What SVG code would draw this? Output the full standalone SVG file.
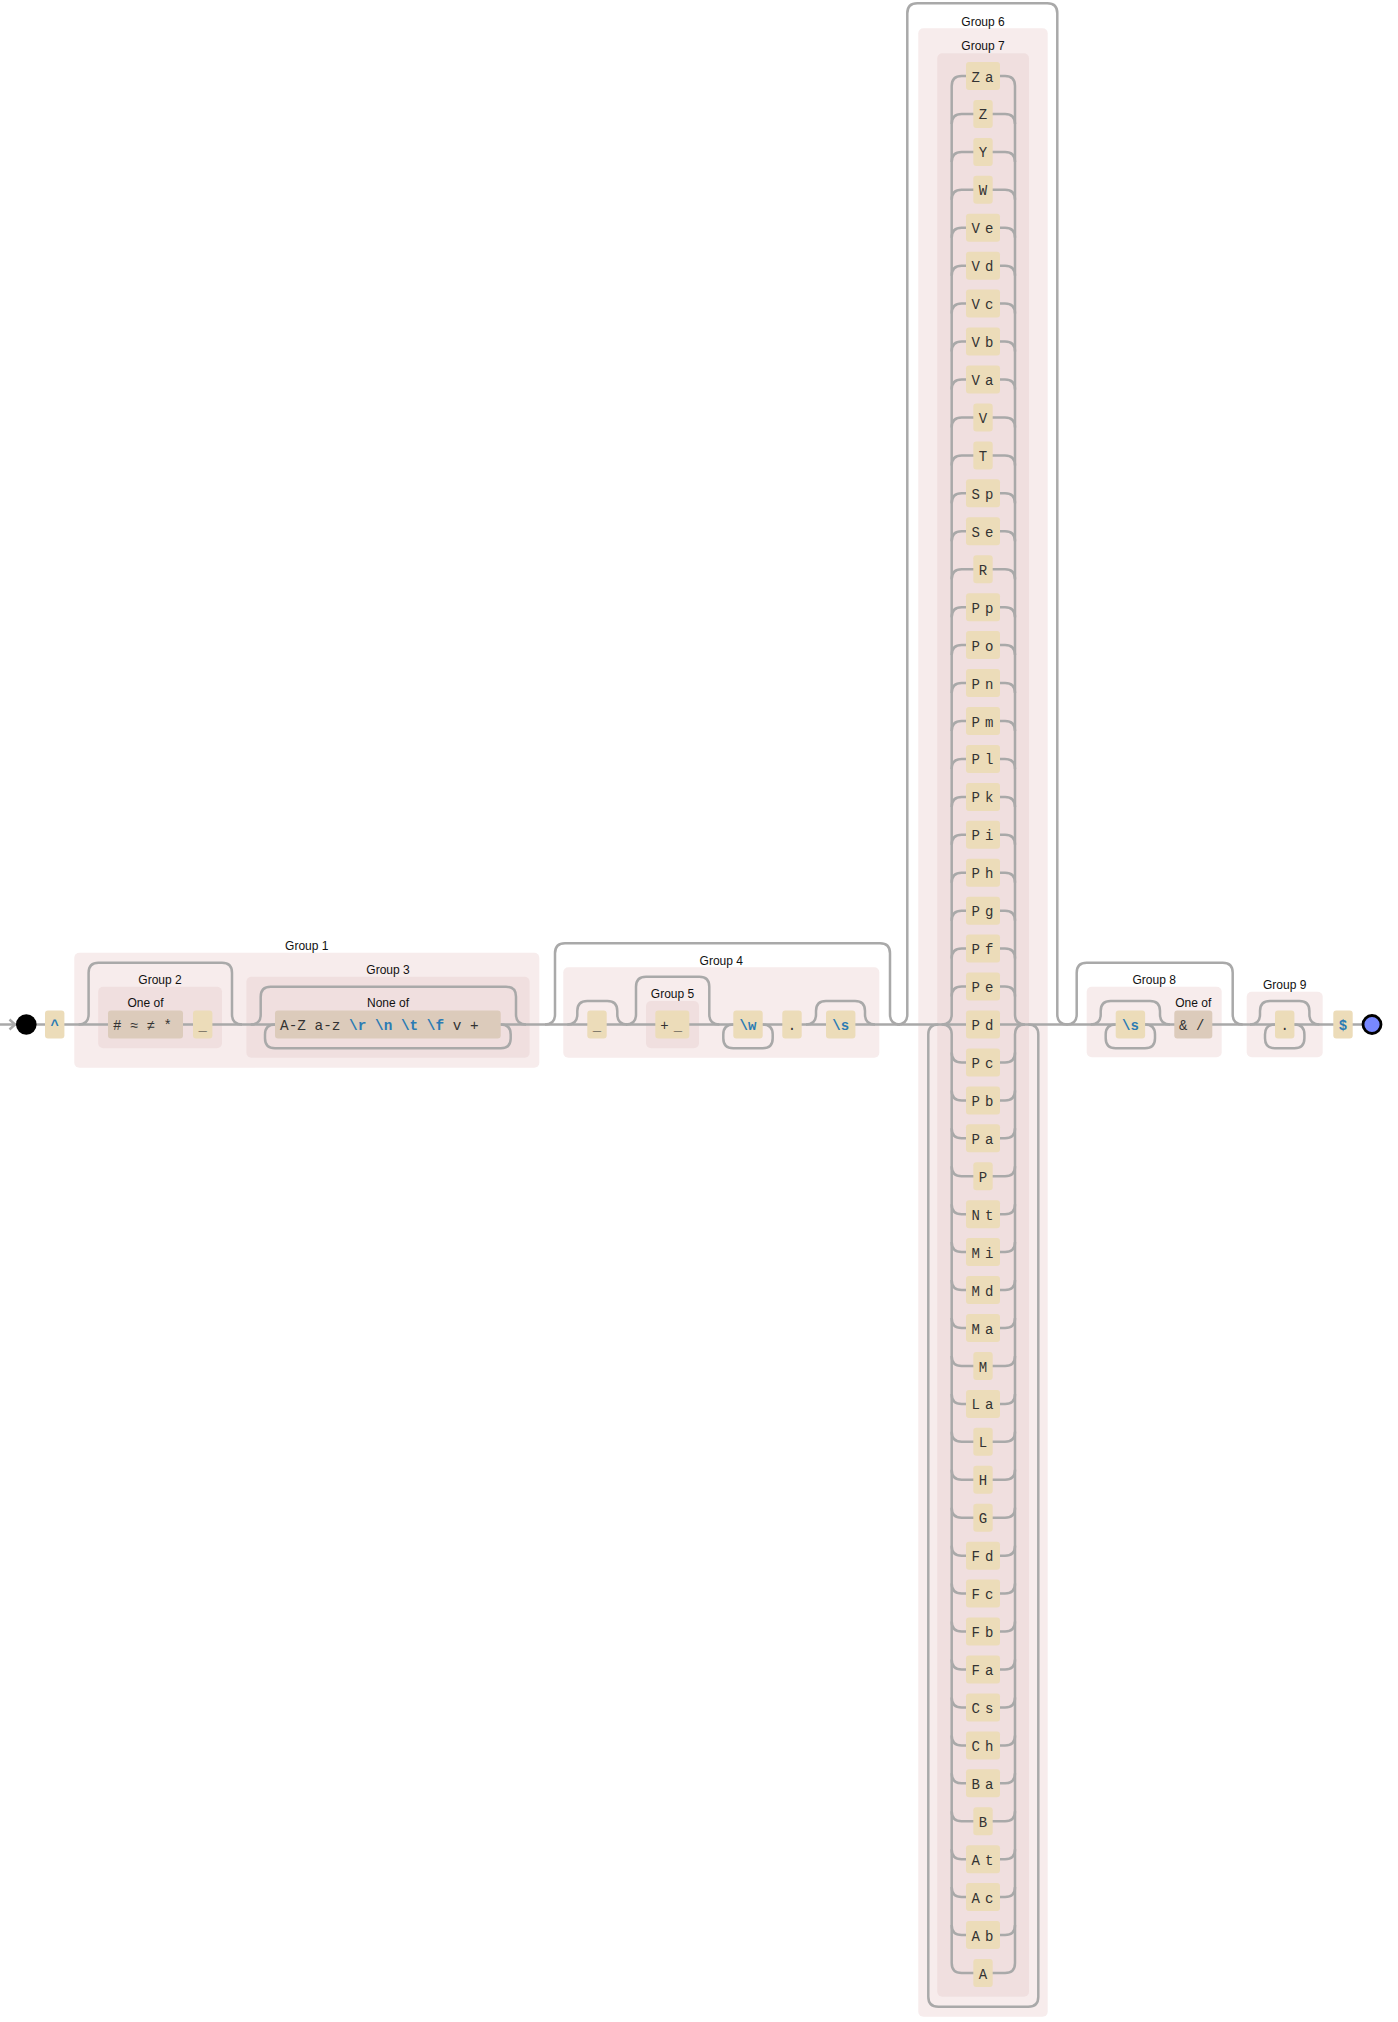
<svg xmlns="http://www.w3.org/2000/svg" width="1398" height="2022" viewBox="0 0 1398 2022">
<style>
.go{fill:#f7ecec}
.gi{fill:#f0dfdf}
.lit{fill:#ecdcb9}
.cs{fill:#dccbbb}
.c{fill:none;stroke:#a9a9a9;stroke-width:2.5}
.lb{font-family:"Liberation Sans",Arial,sans-serif;font-size:12px;fill:#111;text-anchor:middle}
.m{font-family:"Liberation Mono","Courier New",monospace;font-size:14px;fill:#333}
.mid{text-anchor:middle}
.ls{letter-spacing:5px}
.e{font-weight:bold;fill:#2b7bb4}
</style>
<g id="containers">
<g id="group1"><rect class="go" x="74.3" y="952.7" width="465" height="115" rx="5"/><text class="lb" x="306.8" y="950">Group 1</text></g>
<g id="group2"><rect class="gi" x="98.2" y="986.7" width="123.8" height="61.6" rx="5"/><text class="lb" x="160" y="984">Group 2</text></g>
<g id="group3"><rect class="gi" x="246.4" y="976.7" width="283.2" height="81" rx="5"/><text class="lb" x="388" y="974">Group 3</text></g>
<g id="group4"><rect class="go" x="563.3" y="967.3" width="316" height="90.4" rx="5"/><text class="lb" x="721.3" y="965">Group 4</text></g>
<g id="group5"><rect class="gi" x="646" y="1001" width="53" height="47.3" rx="5"/><text class="lb" x="672.5" y="998.3">Group 5</text></g>
<g id="group6"><rect class="go" x="918.3" y="28.3" width="129.4" height="1988.4" rx="5"/><text class="lb" x="983" y="25.7">Group 6</text></g>
<g id="group7"><rect class="gi" x="937.3" y="53.3" width="91.7" height="1943.4" rx="5"/><text class="lb" x="983" y="49.7">Group 7</text></g>
<g id="group8"><rect class="go" x="1086.7" y="986.7" width="135" height="70.6" rx="5"/><text class="lb" x="1154.2" y="984">Group 8</text></g>
<g id="group9"><rect class="go" x="1246.7" y="991.7" width="76" height="65.6" rx="5"/><text class="lb" x="1284.7" y="989">Group 9</text></g>
</g>
<g id="connectors">
<path class="c" d="M0,1024.5 H1362"/>
<path class="c" d="M9.5,1019.5 L15,1024.5 L9.5,1029.5"/>
<path class="c" d="M78.6,1024.5 q10,0 10,-10 V972.7 q0,-10 10,-10 H222 q10,0 10,10 V1014.5 q0,10 10,10"/>
<path class="c" d="M250.7,1024.5 q10,0 10,-10 V996.7 q0,-10 10,-10 H506 q10,0 10,10 V1014.5 q0,10 10,10"/>
<path class="c" d="M500.7,1024.5 q10,0 10,10 V1038.3 q0,10 -10,10 H275 q-10,0 -10,-10 V1034.5 q0,-10 10,-10"/>
<path class="c" d="M545,1024.5 q10,0 10,-10 V953.3 q0,-10 10,-10 H880 q10,0 10,10 V1014.5 q0,10 10,10"/>
<path class="c" d="M567.3,1024.5 q10,0 10,-10 V1011 q0,-10 10,-10 H607.3 q10,0 10,10 V1014.5 q0,10 10,10"/>
<path class="c" d="M626,1024.5 q10,0 10,-10 V986.7 q0,-10 10,-10 H699.3 q10,0 10,10 V1014.5 q0,10 10,10"/>
<path class="c" d="M762.7,1024.5 q10,0 10,10 V1038.3 q0,10 -10,10 H733.3 q-10,0 -10,-10 V1034.5 q0,-10 10,-10"/>
<path class="c" d="M806,1024.5 q10,0 10,-10 V1011 q0,-10 10,-10 H855 q10,0 10,10 V1014.5 q0,10 10,10"/>
<path class="c" d="M897.3,1024.5 q10,0 10,-10 V13.3 q0,-10 10,-10 H1047.3 q10,0 10,10 V1014.5 q0,10 10,10"/>
<path class="c" d="M1028.3,1024.5 q10,0 10,10 V1996.7 q0,10 -10,10 H938.3 q-10,0 -10,-10 V1034.5 q0,-10 10,-10"/>
<path class="c" d="M941.7,1024.5 q10,0 10,-10 V86 M941.7,1024.5 q10,0 10,10 V1963 M1025,1024.5 q-10,0 -10,-10 V86 M1025,1024.5 q-10,0 -10,10 V1963"/>
<path class="c" d="M951.7,86 q0,-10 10,-10 H1005 q10,0 10,10 M951.7,123.9 q0,-10 10,-10 H1005 q10,0 10,10 M951.7,161.9 q0,-10 10,-10 H1005 q10,0 10,10 M951.7,199.8 q0,-10 10,-10 H1005 q10,0 10,10 M951.7,237.8 q0,-10 10,-10 H1005 q10,0 10,10 M951.7,275.7 q0,-10 10,-10 H1005 q10,0 10,10 M951.7,313.6 q0,-10 10,-10 H1005 q10,0 10,10 M951.7,351.6 q0,-10 10,-10 H1005 q10,0 10,10 M951.7,389.5 q0,-10 10,-10 H1005 q10,0 10,10 M951.7,427.5 q0,-10 10,-10 H1005 q10,0 10,10 M951.7,465.4 q0,-10 10,-10 H1005 q10,0 10,10 M951.7,503.3 q0,-10 10,-10 H1005 q10,0 10,10 M951.7,541.3 q0,-10 10,-10 H1005 q10,0 10,10 M951.7,579.2 q0,-10 10,-10 H1005 q10,0 10,10 M951.7,617.2 q0,-10 10,-10 H1005 q10,0 10,10 M951.7,655.1 q0,-10 10,-10 H1005 q10,0 10,10 M951.7,693 q0,-10 10,-10 H1005 q10,0 10,10 M951.7,731 q0,-10 10,-10 H1005 q10,0 10,10 M951.7,768.9 q0,-10 10,-10 H1005 q10,0 10,10 M951.7,806.9 q0,-10 10,-10 H1005 q10,0 10,10 M951.7,844.8 q0,-10 10,-10 H1005 q10,0 10,10 M951.7,882.7 q0,-10 10,-10 H1005 q10,0 10,10 M951.7,920.7 q0,-10 10,-10 H1005 q10,0 10,10 M951.7,958.6 q0,-10 10,-10 H1005 q10,0 10,10 M951.7,996.6 q0,-10 10,-10 H1005 q10,0 10,10"/>
<path class="c" d="M951.7,1052.4 q0,10 10,10 H1005 q10,0 10,-10 M951.7,1090.4 q0,10 10,10 H1005 q10,0 10,-10 M951.7,1128.3 q0,10 10,10 H1005 q10,0 10,-10 M951.7,1166.3 q0,10 10,10 H1005 q10,0 10,-10 M951.7,1204.2 q0,10 10,10 H1005 q10,0 10,-10 M951.7,1242.1 q0,10 10,10 H1005 q10,0 10,-10 M951.7,1280.1 q0,10 10,10 H1005 q10,0 10,-10 M951.7,1318 q0,10 10,10 H1005 q10,0 10,-10 M951.7,1356 q0,10 10,10 H1005 q10,0 10,-10 M951.7,1393.9 q0,10 10,10 H1005 q10,0 10,-10 M951.7,1431.8 q0,10 10,10 H1005 q10,0 10,-10 M951.7,1469.8 q0,10 10,10 H1005 q10,0 10,-10 M951.7,1507.7 q0,10 10,10 H1005 q10,0 10,-10 M951.7,1545.7 q0,10 10,10 H1005 q10,0 10,-10 M951.7,1583.6 q0,10 10,10 H1005 q10,0 10,-10 M951.7,1621.5 q0,10 10,10 H1005 q10,0 10,-10 M951.7,1659.5 q0,10 10,10 H1005 q10,0 10,-10 M951.7,1697.4 q0,10 10,10 H1005 q10,0 10,-10 M951.7,1735.4 q0,10 10,10 H1005 q10,0 10,-10 M951.7,1773.3 q0,10 10,10 H1005 q10,0 10,-10 M951.7,1811.2 q0,10 10,10 H1005 q10,0 10,-10 M951.7,1849.2 q0,10 10,10 H1005 q10,0 10,-10 M951.7,1887.1 q0,10 10,10 H1005 q10,0 10,-10 M951.7,1925.1 q0,10 10,10 H1005 q10,0 10,-10 M951.7,1963 q0,10 10,10 H1005 q10,0 10,-10"/>
<path class="c" d="M1066.7,1024.5 q10,0 10,-10 V972.7 q0,-10 10,-10 H1222.7 q10,0 10,10 V1014.5 q0,10 10,10"/>
<path class="c" d="M1090.7,1024.5 q10,0 10,-10 V1011 q0,-10 10,-10 H1150 q10,0 10,10 V1014.5 q0,10 10,10"/>
<path class="c" d="M1145,1024.5 q10,0 10,10 V1038.3 q0,10 -10,10 H1115.7 q-10,0 -10,-10 V1034.5 q0,-10 10,-10"/>
<path class="c" d="M1250,1024.5 q10,0 10,-10 V1011 q0,-10 10,-10 H1299.4 q10,0 10,10 V1014.5 q0,10 10,10"/>
<path class="c" d="M1294.4,1024.5 q10,0 10,10 V1038.3 q0,10 -10,10 H1275 q-10,0 -10,-10 V1034.5 q0,-10 10,-10"/>
</g>
<g id="nodes">
<g id="start"><circle cx="26.3" cy="1024.5" r="10.3" fill="#000"/></g>
<g id="caret"><rect class="lit" x="45" y="1010.5" width="19.4" height="28" rx="3"/><text class="m e mid" x="54.7" y="1030">^</text></g>
<g id="oneof1"><text class="lb" x="145.5" y="1007.3">One of</text><rect class="cs" x="108" y="1010.5" width="75" height="28" rx="3"/><text class="m" x="113" y="1030"># ≈ ≠ *</text></g>
<g id="under1"><rect class="lit" x="193" y="1010.5" width="19.4" height="28" rx="3"/><text class="m mid" x="202.7" y="1030">_</text></g>
<g id="noneof"><text class="lb" x="388" y="1007.3">None of</text><rect class="cs" x="275" y="1010.5" width="225.7" height="28" rx="3"/><text class="m" x="280" y="1030" style="font-size:14.4px">A-Z a-z <tspan class="e">\r</tspan> <tspan class="e">\n</tspan> <tspan class="e">\t</tspan> <tspan class="e">\f</tspan> v +</text></g>
<g id="under2"><rect class="lit" x="587.3" y="1010.5" width="19.4" height="28" rx="3"/><text class="m mid" x="597" y="1030">_</text></g>
<g id="plusunder"><rect class="lit" x="655.3" y="1010.5" width="34" height="28" rx="3"/><text class="m ls" x="660.3" y="1030">+_</text></g>
<g id="word"><rect class="lit" x="733.3" y="1010.5" width="29.4" height="28" rx="3"/><text class="m e mid" x="748" y="1030">\w</text></g>
<g id="dot1"><rect class="lit" x="782.3" y="1010.5" width="19.4" height="28" rx="3"/><text class="m mid" x="792" y="1030">.</text></g>
<g id="space1"><rect class="lit" x="826" y="1010.5" width="29.4" height="28" rx="3"/><text class="m e mid" x="840.7" y="1030">\s</text></g>
<g id="alt-Za" transform="translate(0,62)"><rect class="lit" x="966" width="34" height="28" rx="3"/><text class="m ls" x="971.5" y="19.5">Za</text></g>
<g id="alt-Z" transform="translate(0,99.9)"><rect class="lit" x="973.3" width="19.4" height="28" rx="3"/><text class="m mid" x="983" y="19.5">Z</text></g>
<g id="alt-Y" transform="translate(0,137.9)"><rect class="lit" x="973.3" width="19.4" height="28" rx="3"/><text class="m mid" x="983" y="19.5">Y</text></g>
<g id="alt-W" transform="translate(0,175.8)"><rect class="lit" x="973.3" width="19.4" height="28" rx="3"/><text class="m mid" x="983" y="19.5">W</text></g>
<g id="alt-Ve" transform="translate(0,213.8)"><rect class="lit" x="966" width="34" height="28" rx="3"/><text class="m ls" x="971.5" y="19.5">Ve</text></g>
<g id="alt-Vd" transform="translate(0,251.7)"><rect class="lit" x="966" width="34" height="28" rx="3"/><text class="m ls" x="971.5" y="19.5">Vd</text></g>
<g id="alt-Vc" transform="translate(0,289.6)"><rect class="lit" x="966" width="34" height="28" rx="3"/><text class="m ls" x="971.5" y="19.5">Vc</text></g>
<g id="alt-Vb" transform="translate(0,327.6)"><rect class="lit" x="966" width="34" height="28" rx="3"/><text class="m ls" x="971.5" y="19.5">Vb</text></g>
<g id="alt-Va" transform="translate(0,365.5)"><rect class="lit" x="966" width="34" height="28" rx="3"/><text class="m ls" x="971.5" y="19.5">Va</text></g>
<g id="alt-V" transform="translate(0,403.5)"><rect class="lit" x="973.3" width="19.4" height="28" rx="3"/><text class="m mid" x="983" y="19.5">V</text></g>
<g id="alt-T" transform="translate(0,441.4)"><rect class="lit" x="973.3" width="19.4" height="28" rx="3"/><text class="m mid" x="983" y="19.5">T</text></g>
<g id="alt-Sp" transform="translate(0,479.3)"><rect class="lit" x="966" width="34" height="28" rx="3"/><text class="m ls" x="971.5" y="19.5">Sp</text></g>
<g id="alt-Se" transform="translate(0,517.3)"><rect class="lit" x="966" width="34" height="28" rx="3"/><text class="m ls" x="971.5" y="19.5">Se</text></g>
<g id="alt-R" transform="translate(0,555.2)"><rect class="lit" x="973.3" width="19.4" height="28" rx="3"/><text class="m mid" x="983" y="19.5">R</text></g>
<g id="alt-Pp" transform="translate(0,593.2)"><rect class="lit" x="966" width="34" height="28" rx="3"/><text class="m ls" x="971.5" y="19.5">Pp</text></g>
<g id="alt-Po" transform="translate(0,631.1)"><rect class="lit" x="966" width="34" height="28" rx="3"/><text class="m ls" x="971.5" y="19.5">Po</text></g>
<g id="alt-Pn" transform="translate(0,669)"><rect class="lit" x="966" width="34" height="28" rx="3"/><text class="m ls" x="971.5" y="19.5">Pn</text></g>
<g id="alt-Pm" transform="translate(0,707)"><rect class="lit" x="966" width="34" height="28" rx="3"/><text class="m ls" x="971.5" y="19.5">Pm</text></g>
<g id="alt-Pl" transform="translate(0,744.9)"><rect class="lit" x="966" width="34" height="28" rx="3"/><text class="m ls" x="971.5" y="19.5">Pl</text></g>
<g id="alt-Pk" transform="translate(0,782.9)"><rect class="lit" x="966" width="34" height="28" rx="3"/><text class="m ls" x="971.5" y="19.5">Pk</text></g>
<g id="alt-Pi" transform="translate(0,820.8)"><rect class="lit" x="966" width="34" height="28" rx="3"/><text class="m ls" x="971.5" y="19.5">Pi</text></g>
<g id="alt-Ph" transform="translate(0,858.7)"><rect class="lit" x="966" width="34" height="28" rx="3"/><text class="m ls" x="971.5" y="19.5">Ph</text></g>
<g id="alt-Pg" transform="translate(0,896.7)"><rect class="lit" x="966" width="34" height="28" rx="3"/><text class="m ls" x="971.5" y="19.5">Pg</text></g>
<g id="alt-Pf" transform="translate(0,934.6)"><rect class="lit" x="966" width="34" height="28" rx="3"/><text class="m ls" x="971.5" y="19.5">Pf</text></g>
<g id="alt-Pe" transform="translate(0,972.6)"><rect class="lit" x="966" width="34" height="28" rx="3"/><text class="m ls" x="971.5" y="19.5">Pe</text></g>
<g id="alt-Pd" transform="translate(0,1010.5)"><rect class="lit" x="966" width="34" height="28" rx="3"/><text class="m ls" x="971.5" y="19.5">Pd</text></g>
<g id="alt-Pc" transform="translate(0,1048.4)"><rect class="lit" x="966" width="34" height="28" rx="3"/><text class="m ls" x="971.5" y="19.5">Pc</text></g>
<g id="alt-Pb" transform="translate(0,1086.4)"><rect class="lit" x="966" width="34" height="28" rx="3"/><text class="m ls" x="971.5" y="19.5">Pb</text></g>
<g id="alt-Pa" transform="translate(0,1124.3)"><rect class="lit" x="966" width="34" height="28" rx="3"/><text class="m ls" x="971.5" y="19.5">Pa</text></g>
<g id="alt-P" transform="translate(0,1162.3)"><rect class="lit" x="973.3" width="19.4" height="28" rx="3"/><text class="m mid" x="983" y="19.5">P</text></g>
<g id="alt-Nt" transform="translate(0,1200.2)"><rect class="lit" x="966" width="34" height="28" rx="3"/><text class="m ls" x="971.5" y="19.5">Nt</text></g>
<g id="alt-Mi" transform="translate(0,1238.1)"><rect class="lit" x="966" width="34" height="28" rx="3"/><text class="m ls" x="971.5" y="19.5">Mi</text></g>
<g id="alt-Md" transform="translate(0,1276.1)"><rect class="lit" x="966" width="34" height="28" rx="3"/><text class="m ls" x="971.5" y="19.5">Md</text></g>
<g id="alt-Ma" transform="translate(0,1314)"><rect class="lit" x="966" width="34" height="28" rx="3"/><text class="m ls" x="971.5" y="19.5">Ma</text></g>
<g id="alt-M" transform="translate(0,1352)"><rect class="lit" x="973.3" width="19.4" height="28" rx="3"/><text class="m mid" x="983" y="19.5">M</text></g>
<g id="alt-La" transform="translate(0,1389.9)"><rect class="lit" x="966" width="34" height="28" rx="3"/><text class="m ls" x="971.5" y="19.5">La</text></g>
<g id="alt-L" transform="translate(0,1427.8)"><rect class="lit" x="973.3" width="19.4" height="28" rx="3"/><text class="m mid" x="983" y="19.5">L</text></g>
<g id="alt-H" transform="translate(0,1465.8)"><rect class="lit" x="973.3" width="19.4" height="28" rx="3"/><text class="m mid" x="983" y="19.5">H</text></g>
<g id="alt-G" transform="translate(0,1503.7)"><rect class="lit" x="973.3" width="19.4" height="28" rx="3"/><text class="m mid" x="983" y="19.5">G</text></g>
<g id="alt-Fd" transform="translate(0,1541.7)"><rect class="lit" x="966" width="34" height="28" rx="3"/><text class="m ls" x="971.5" y="19.5">Fd</text></g>
<g id="alt-Fc" transform="translate(0,1579.6)"><rect class="lit" x="966" width="34" height="28" rx="3"/><text class="m ls" x="971.5" y="19.5">Fc</text></g>
<g id="alt-Fb" transform="translate(0,1617.5)"><rect class="lit" x="966" width="34" height="28" rx="3"/><text class="m ls" x="971.5" y="19.5">Fb</text></g>
<g id="alt-Fa" transform="translate(0,1655.5)"><rect class="lit" x="966" width="34" height="28" rx="3"/><text class="m ls" x="971.5" y="19.5">Fa</text></g>
<g id="alt-Cs" transform="translate(0,1693.4)"><rect class="lit" x="966" width="34" height="28" rx="3"/><text class="m ls" x="971.5" y="19.5">Cs</text></g>
<g id="alt-Ch" transform="translate(0,1731.4)"><rect class="lit" x="966" width="34" height="28" rx="3"/><text class="m ls" x="971.5" y="19.5">Ch</text></g>
<g id="alt-Ba" transform="translate(0,1769.3)"><rect class="lit" x="966" width="34" height="28" rx="3"/><text class="m ls" x="971.5" y="19.5">Ba</text></g>
<g id="alt-B" transform="translate(0,1807.2)"><rect class="lit" x="973.3" width="19.4" height="28" rx="3"/><text class="m mid" x="983" y="19.5">B</text></g>
<g id="alt-At" transform="translate(0,1845.2)"><rect class="lit" x="966" width="34" height="28" rx="3"/><text class="m ls" x="971.5" y="19.5">At</text></g>
<g id="alt-Ac" transform="translate(0,1883.1)"><rect class="lit" x="966" width="34" height="28" rx="3"/><text class="m ls" x="971.5" y="19.5">Ac</text></g>
<g id="alt-Ab" transform="translate(0,1921.1)"><rect class="lit" x="966" width="34" height="28" rx="3"/><text class="m ls" x="971.5" y="19.5">Ab</text></g>
<g id="alt-A" transform="translate(0,1959)"><rect class="lit" x="973.3" width="19.4" height="28" rx="3"/><text class="m mid" x="983" y="19.5">A</text></g>
<g id="space2"><rect class="lit" x="1115.7" y="1010.5" width="29.4" height="28" rx="3"/><text class="m e mid" x="1130.4" y="1030">\s</text></g>
<g id="oneof2"><text class="lb" x="1193.3" y="1007.3">One of</text><rect class="cs" x="1174.3" y="1010.5" width="38" height="28" rx="3"/><text class="m" x="1179.1" y="1030">&amp; /</text></g>
<g id="dot2"><rect class="lit" x="1275" y="1010.5" width="19.4" height="28" rx="3"/><text class="m mid" x="1284.7" y="1030">.</text></g>
<g id="dollar"><rect class="lit" x="1333.3" y="1010.5" width="19.4" height="28" rx="3"/><text class="m e mid" x="1343" y="1030">$</text></g>
<g id="end"><circle cx="1372" cy="1024.5" r="9" fill="#7888ff" stroke="#000" stroke-width="2.8"/></g>
</g>
</svg>
